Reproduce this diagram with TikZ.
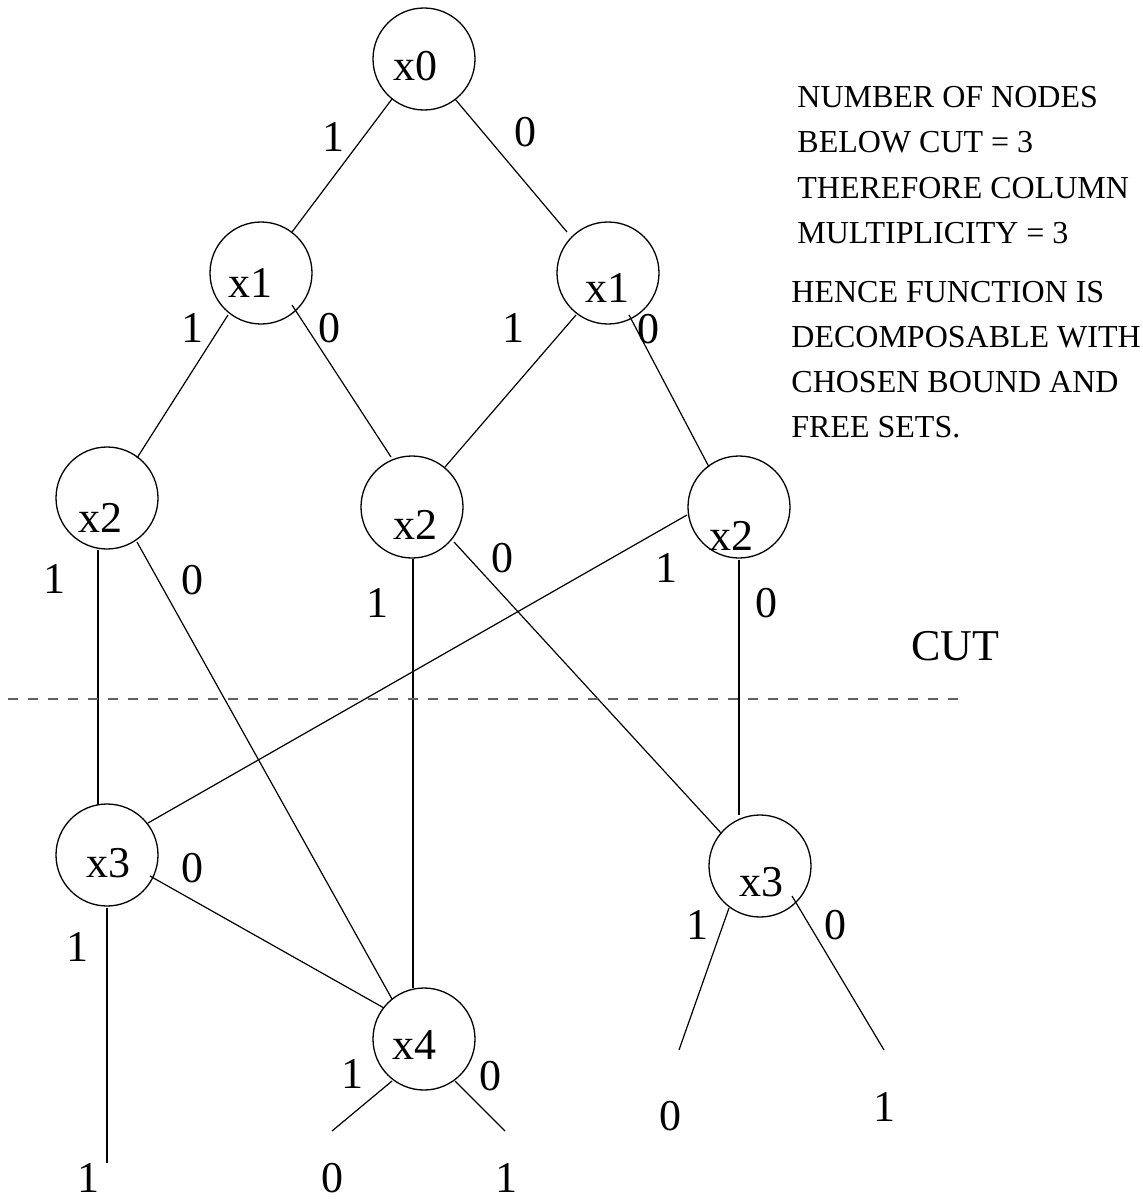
\documentclass[tikz,border=0pt]{standalone}
\usepackage{fontspec}
\setmainfont{Liberation Serif}
\usetikzlibrary{calc}
\begin{document}
\begin{tikzpicture}[x=0.5pt,y=-0.5pt,
  vnode/.style={circle,draw,line width=0.65pt,minimum size=51pt,inner sep=0pt},
  lbl/.style={inner sep=0pt,font=\fontsize{22}{24}\selectfont},
  edge/.style={line width=0.6pt},
  note/.style={anchor=base west,inner sep=0pt,font=\fontsize{16}{18}\selectfont}]
\useasboundingbox (0,0) rectangle (1143,1204);

% decision-diagram vertices
\node[vnode] (x0)  at (424,59)  {};
\node[vnode] (x1a) at (261,273) {};
\node[vnode] (x1b) at (608,273) {};
\node[vnode] (x2a) at (107,498) {};
\node[vnode] (x2b) at (412,507) {};
\node[vnode] (x2c) at (739,507) {};
\node[vnode] (x3a) at (107,855) {};
\node[vnode] (x4)  at (424,1039) {};
\node[vnode] (x3b) at (760,866) {};

% variable names
\node[lbl] (tx0)  at (415,66)   {x0};
\node[lbl] (tx1a) at (250,283)  {x1};
\node[lbl] (tx1b) at (607,288)  {x1};
\node[lbl] (tx2a) at (100,518)  {x2};
\node[lbl] (tx2b) at (415,525)  {x2};
\node[lbl] (tx2c) at (731,536)  {x2};
\node[lbl] (tx3a) at (108,863)  {x3};
\node[lbl] (tx4)  at (414,1045) {x4};
\node[lbl] (tx3b) at (761,882)  {x3};

% loose ends leading to the terminal values
\coordinate (e1) at (107,1163);
\coordinate (e2) at (332,1131);
\coordinate (e3) at (505,1131);
\coordinate (e4) at (679,1050);
\coordinate (e5) at (884,1050);

% branches
\draw[edge] ($(x0)+(-32,40)$) -- ($(x1a)+(31,-41)$);
\draw[edge] ($(x0)+(31,40)$) -- ($(x1b)+(-41,-41)$);
\draw[edge] ($(x1a)+(-33,42)$) -- ($(x2a)+(30,-40)$);
\draw[edge] ($(x1a)+(31,32)$) -- ($(x2b)+(-21,-50)$);
\draw[edge] ($(x1b)+(-32,42)$) -- ($(x2b)+(33,-40)$);
\draw[edge] ($(x1b)+(21,42)$) -- ($(x2c)+(-30,-40)$);
\draw[edge] ($(x2a)+(-9,52)$) -- ($(x3a)+(-9,-50)$);
\draw[edge] ($(x2a)+(30,44)$) -- ($(x4)+(-32,-40)$);
\draw[edge] ($(x2b)+(1,52)$) -- ($(x4)+(-11,-51)$);
\draw[edge] ($(x2b)+(42,35)$) -- ($(x3b)+(-39,-33)$);
\draw[edge] ($(x2c)+(-52,8)$) -- ($(x3a)+(41,-32)$);
\draw[edge] ($(x2c)+(0,53)$) -- ($(x3b)+(-21,-51)$);
\draw[edge] ($(x3a)+(43,21)$) -- ($(x4)+(-40,-31)$);
\draw[edge] ($(x3a)+(0,53)$) -- (e1);
\draw[edge] ($(x4)+(-32,42)$) -- (e2);
\draw[edge] ($(x4)+(31,42)$) -- (e3);
\draw[edge] ($(x3b)+(-31,42)$) -- (e4);
\draw[edge] ($(x3b)+(32,30)$) -- (e5);

% branch values
\node[lbl] at (333,137) {1};
\node[lbl] at (525,132) {0};
\node[lbl] at (192,328) {1};
\node[lbl] at (329,328) {0};
\node[lbl] at (513,328) {1};
\node[lbl] at (648,329) {0};
\node[lbl] at (54,579)  {1};
\node[lbl] at (192,580) {0};
\node[lbl] at (377,603) {1};
\node[lbl] at (502,558) {0};
\node[lbl] at (666,568) {1};
\node[lbl] at (766,603) {0};
\node[lbl] at (192,868) {0};
\node[lbl] at (77,947)  {1};
\node[lbl] at (352,1074) {1};
\node[lbl] at (490,1076) {0};
\node[lbl] at (697,925) {1};
\node[lbl] at (835,925) {0};

% terminal values
\node[lbl] at (88,1178)  {1};
\node[lbl] at (332,1178) {0};
\node[lbl] at (506,1178) {1};
\node[lbl] at (670,1116) {0};
\node[lbl] at (884,1107) {1};

% the cut
\draw[black!62,line width=0.6pt,dash pattern=on 5pt off 5pt] (8,699) -- (960,699);
\node[lbl] at (955,646) {CUT};

% remarks
\node[note] at (797,108) {NUMBER OF NODES};
\node[note] at (797,153) {BELOW CUT = 3};
\node[note] at (797,198) {THEREFORE COLUMN};
\node[note] at (797,243) {MULTIPLICITY = 3};
\node[note] at (791,302) {HENCE FUNCTION IS};
\node[note] at (791,347) {DECOMPOSABLE WITH};
\node[note] at (791,392) {CHOSEN BOUND AND};
\node[note] at (791,437) {FREE SETS.};
\end{tikzpicture}
\end{document}
